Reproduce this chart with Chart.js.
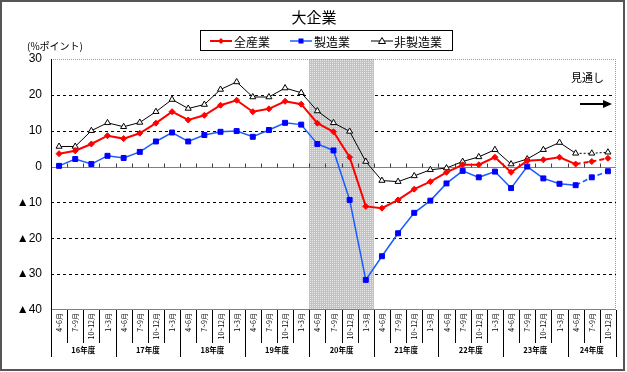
<!DOCTYPE html>
<html>
<head>
<meta charset="utf-8">
<script src="https://cdn.jsdelivr.net/npm/chart.js@4.4.0/dist/chart.umd.min.js"></script>
<style>
  html, body { margin: 0; padding: 0; background: #fff; }
</style>
</head>
<body>
<canvas id="kigyo" width="627" height="372"></canvas>
<script>
// 四半期ラベル（16年度〜24年度）
var quarters = [
  "4~6月","7~9月","10~12月","1~3月",
  "4~6月","7~9月","10~12月","1~3月",
  "4~6月","7~9月","10~12月","1~3月",
  "4~6月","7~9月","10~12月","1~3月",
  "4~6月","7~9月","10~12月","1~3月",
  "4~6月","7~9月","10~12月","1~3月",
  "4~6月","7~9月","10~12月","1~3月",
  "4~6月","7~9月","10~12月","1~3月",
  "4~6月","7~9月","10~12月"
];
var years = ["16年度","17年度","18年度","19年度","20年度","21年度","22年度","23年度","24年度"];
var yearStart = [0, 4, 8, 12, 16, 20, 24, 28, 32];

var zenSangyo = [3.6,4.4,6.3,8.6, 7.8,9.3,12.1,15.3, 13.0,14.3,17.1,18.5, 15.3,16.1,18.2,17.4,
  12.1,9.7,2.6,-11.1, -11.6,-9.3,-6.3,-4.2, -1.6,0.5,0.5,2.6, -1.6,1.6,1.9,2.6, 0.7,1.4,2.3];
var seizo = [0.2,2.1,0.7,3.0, 2.4,4.1,7.0,9.5, 7.0,8.8,9.7,9.9, 8.3,10.2,12.2,11.7,
  6.3,4.5,-9.3,-31.6, -25.0,-18.6,-12.9,-9.5, -4.7,-1.2,-3.0,-1.4, -6.0,0.0,-3.3,-4.8, -5.2,-3.0,-1.3];
var hiSeizo = [5.6,5.6,10.0,12.2, 11.1,12.3,15.3,18.7, 16.2,17.3,21.5,23.6, 19.4,19.4,21.9,20.6,
  15.5,12.2,9.8,1.4, -3.9,-4.2,-2.6,-0.9, -0.4,1.4,2.7,4.7, 0.7,2.1,4.7,6.7, 3.7,3.7,4.0];

var yTicks = [30, 20, 10, 0, -10, -20, -30, -40];
var mitoshiFrom = 32;           // ここから先は見通し
var shadeFrom = 16, shadeTo = 19; // 網掛け（20年度）

var canvas = document.getElementById('kigyo');
var ctx = canvas.getContext('2d');

// 網掛けパターン
var pc = document.createElement('canvas');
pc.width = 2; pc.height = 2;
var pctx = pc.getContext('2d');
pctx.fillStyle = '#c2c2c2'; pctx.fillRect(0, 0, 2, 2);
pctx.fillStyle = '#e8e8e8'; pctx.fillRect(0, 0, 1, 1);
var shadePattern = ctx.createPattern(pc, 'repeat');

var JP = "'Noto Sans CJK JP', sans-serif";

function hline(c, x1, x2, y) { c.beginPath(); c.moveTo(x1, y); c.lineTo(x2, y); c.stroke(); }
function vline(c, x, y1, y2) { c.beginPath(); c.moveTo(x, y1); c.lineTo(x, y2); c.stroke(); }

var decor = {
  id: 'decor',
  beforeDatasetsDraw: function (chart) {
    var c = chart.ctx, a = chart.chartArea, x = chart.scales.x, y = chart.scales.y;
    var half = (x.getPixelForValue(1) - x.getPixelForValue(0)) / 2;
    c.save();
    c.lineWidth = 1;
    // 目盛線（破線）
    c.strokeStyle = '#000';
    c.setLineDash([3, 3]);
    yTicks.forEach(function (v) {
      if (v === 0 || v === 30 || v === -40) return;
      hline(c, a.left, a.right, Math.round(y.getPixelForValue(v)) + 0.5);
    });
    // 網掛け
    c.setLineDash([]);
    var sx1 = Math.round(x.getPixelForValue(shadeFrom) - half);
    var sx2 = Math.round(x.getPixelForValue(shadeTo) + half);
    c.fillStyle = shadePattern;
    c.fillRect(sx1, a.top, sx2 - sx1, a.bottom - a.top);
    // 枠（上・右は灰色の点線）
    c.strokeStyle = '#999';
    c.setLineDash([1, 1]);
    hline(c, a.left, a.right, Math.round(a.top) + 0.5);
    vline(c, Math.round(a.right) - 0.5, a.top, a.bottom);
    c.setLineDash([]);
    // ゼロ線
    var y0 = Math.round(y.getPixelForValue(0)) + 0.5;
    c.strokeStyle = '#808080';
    hline(c, a.left, a.right, y0);
    // ゼロ線上の目盛
    c.strokeStyle = '#404040';
    for (var i = 1; i < quarters.length; i++) {
      var bx = Math.round(x.getPixelForValue(i) - half) + 0.5;
      vline(c, bx, y0 - 4, y0);
    }
    // 下端・左軸
    c.strokeStyle = '#808080';
    hline(c, a.left, a.right, Math.round(a.bottom) - 0.5);
    c.strokeStyle = '#000';
    vline(c, Math.round(a.left) + 0.5, a.top, a.bottom);
    c.restore();
  },
  afterDraw: function (chart) {
    var c = chart.ctx, a = chart.chartArea, x = chart.scales.x;
    var half = (x.getPixelForValue(1) - x.getPixelForValue(0)) / 2;
    c.save();
    // 四半期ラベル（縦書き）
    c.fillStyle = '#000';
    c.font = "7px " + JP;
    quarters.forEach(function (q, i) {
      c.save();
      c.translate(Math.round(x.getPixelForValue(i)) + 0.5, a.bottom + 3);
      c.rotate(-Math.PI / 2);
      c.textAlign = 'right';
      c.textBaseline = 'middle';
      c.fillText(q, 0, 0);
      c.restore();
    });
    // 区切り線
    c.strokeStyle = '#000';
    c.lineWidth = 1;
    for (var i = 0; i <= quarters.length; i++) {
      var bx = i < quarters.length ? x.getPixelForValue(i) - half : x.getPixelForValue(quarters.length - 1) + half;
      bx = Math.round(bx) + 0.5;
      var isYear = yearStart.indexOf(i) >= 0 || i === quarters.length;
      vline(c, bx, a.bottom, a.bottom + (isYear ? 47 : 33));
    }
    // 年度ラベル
    c.font = "bold 7.5px " + JP;
    c.textAlign = 'center';
    c.textBaseline = 'middle';
    years.forEach(function (yr, k) {
      var s = yearStart[k];
      var e = k + 1 < yearStart.length ? yearStart[k + 1] - 1 : quarters.length - 1;
      var cx = (x.getPixelForValue(s) + x.getPixelForValue(e)) / 2;
      c.fillText(yr, cx, a.bottom + 40);
    });
    // タイトル
    c.font = "15px " + JP;
    c.fillText('大企業', 314, 17);
    // 単位
    c.font = "10px " + JP;
    c.textAlign = 'left';
    c.fillText('(%ポイント)', 27, 46);
    // 見通し
    c.font = "11px " + JP;
    c.fillText('見通し', 571, 78);
    c.lineWidth = 2;
    hline(c, 580, 604, 104);
    c.beginPath();
    c.moveTo(612, 104); c.lineTo(603, 100); c.lineTo(603, 108); c.closePath();
    c.fill();
    // 凡例
    c.lineWidth = 1;
    c.strokeStyle = '#000';
    c.strokeRect(200.5, 30.5, 252, 20);
    var items = [
      { label: '全産業', color: '#ff0000', lx: 210, tx: 234, style: 'diamond', w: 2 },
      { label: '製造業', color: '#1a5cff', mk: '#0000ff', lx: 290, tx: 314, style: 'square', w: 1.5 },
      { label: '非製造業', color: '#000', lx: 371, tx: 394, style: 'triangle', w: 1 }
    ];
    c.font = "12px " + JP;
    c.textBaseline = 'middle';
    items.forEach(function (it) {
      var ly = 41;
      c.strokeStyle = it.color;
      c.lineWidth = it.w;
      hline(c, it.lx, it.lx + 22, ly);
      var mx = it.lx + 11;
      c.lineWidth = 1;
      if (it.style === 'diamond') {
        c.fillStyle = it.color;
        c.beginPath(); c.moveTo(mx, ly - 3); c.lineTo(mx + 3, ly); c.lineTo(mx, ly + 3); c.lineTo(mx - 3, ly); c.closePath(); c.fill();
      } else if (it.style === 'square') {
        c.fillStyle = it.mk;
        c.fillRect(mx - 2.5, ly - 2.5, 5, 5);
      } else {
        c.fillStyle = '#fff';
        c.strokeStyle = '#000';
        c.beginPath(); c.moveTo(mx, ly - 3.5); c.lineTo(mx + 3.5, ly + 2.5); c.lineTo(mx - 3.5, ly + 2.5); c.closePath(); c.fill(); c.stroke();
      }
      c.fillStyle = '#000';
      c.textAlign = 'left';
      c.fillText(it.label, it.tx, ly + 1);
    });
    // 外枠
    c.strokeStyle = '#555';
    c.lineWidth = 2;
    c.strokeRect(1, 1, 623, 369);
    c.restore();
  }
};

function mitoshiDash(dash) {
  return function (s) { return s.p0DataIndex >= mitoshiFrom ? dash : undefined; };
}

var chart = new Chart(ctx, {
  type: 'line',
  data: {
    labels: quarters,
    datasets: [{
      label: '全産業',
      data: zenSangyo,
      borderColor: '#ff0000',
      backgroundColor: '#ff0000',
      borderWidth: 2,
      pointStyle: 'rectRot',
      pointRadius: 3,
      pointBorderWidth: 1,
      segment: { borderDash: mitoshiDash([5, 3]) }
    }, {
      label: '製造業',
      data: seizo,
      borderColor: '#1a5cff',
      backgroundColor: '#0000ff',
      pointBorderColor: '#0000ff',
      borderWidth: 1.5,
      pointStyle: 'rect',
      pointRadius: 3.5,
      pointBorderWidth: 1,
      segment: { borderDash: mitoshiDash([5, 3]) }
    }, {
      label: '非製造業',
      data: hiSeizo,
      borderColor: '#000',
      backgroundColor: '#fff',
      borderWidth: 1,
      pointStyle: 'triangle',
      pointRadius: 3.5,
      pointBorderWidth: 1,
      segment: { borderDash: mitoshiDash([2, 2]) }
    }]
  },
  options: {
    responsive: false,
    animation: false,
    layout: { padding: { top: 59, bottom: 62, left: 0, right: 11 } },
    plugins: {
      legend: { display: false },
      title: { display: false },
      tooltip: { enabled: false }
    },
    scales: {
      x: { display: false, offset: true },
      y: {
        min: -40,
        max: 30,
        afterFit: function (s) { s.width = 51; },
        grid: { display: false, drawTicks: false },
        border: { display: false },
        ticks: {
          stepSize: 10,
          padding: 9,
          color: '#000',
          font: { family: "'Liberation Sans', 'DejaVu Sans'", size: 12 },
          callback: function (v) { return v < 0 ? '▲' + (-v) : String(v); }
        }
      }
    }
  },
  plugins: [decor]
});
</script>
</body>
</html>
